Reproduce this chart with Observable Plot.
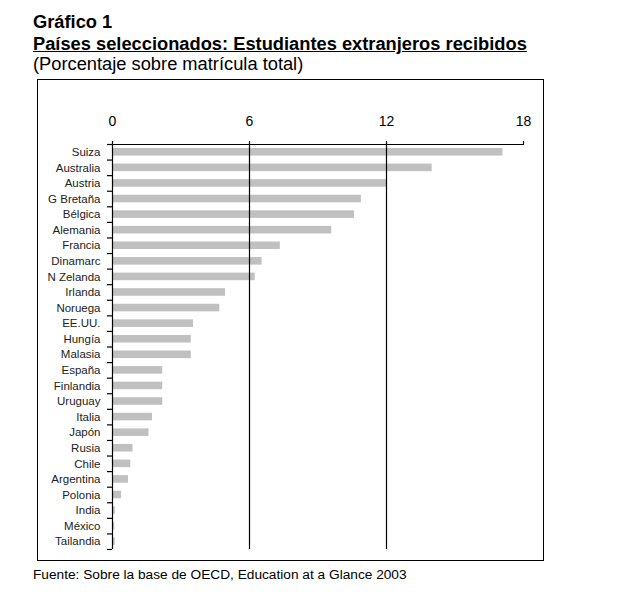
<!DOCTYPE html>
<html>
<head>
<meta charset="utf-8">
<script src="https://cdn.jsdelivr.net/npm/d3@7"></script>
<script src="https://cdn.jsdelivr.net/npm/@observablehq/plot@0.6"></script>
<style>
  body { margin: 0; background: #fff; font-family: "Liberation Sans", Arial, sans-serif; color: #000; }
  .t { position: absolute; left: 33px; white-space: nowrap; font-size: 18.3px; line-height: 21px; }
  #box { position: absolute; left: 37px; top: 79px; width: 507px; height: 482px; border: 1.5px solid #000; box-sizing: border-box; }
  #box svg { display: block; }
</style>
</head>
<body>
<div class="t" style="top:11px;font-weight:bold;">Gráfico 1</div>
<div class="t" style="top:33px;font-weight:bold;text-decoration:underline;">Países seleccionados: Estudiantes extranjeros recibidos</div>
<div class="t" style="top:53px;">(Porcentaje sobre matrícula total)</div>
<div id="box"></div>
<div class="t" style="top:567px;font-size:13.7px;line-height:16px;">Fuente: Sobre la base de OECD, Education at a Glance 2003</div>
<script>
const countries = ["Suiza","Australia","Austria","G Bretaña","Bélgica","Alemania","Francia","Dinamarc","N Zelanda","Irlanda","Noruega","EE.UU.","Hungía","Malasia","España","Finlandia","Uruguay","Italia","Japón","Rusia","Chile","Argentina","Polonia","India","México","Tailandia"];
const values = [17.1, 14.0, 12.0, 10.9, 10.6, 9.6, 7.35, 6.55, 6.25, 4.95, 4.7, 3.55, 3.45, 3.45, 2.2, 2.2, 2.2, 1.75, 1.6, 0.9, 0.8, 0.7, 0.4, 0.12, 0.1, 0.12];
const xTicks = [0, 6, 12, 18];

const data = countries.map((c, i) => ({country: c, value: values[i], i}));
const boundaries = d3.range(countries.length + 1);
const xMin = xTicks[0], xMax = xTicks[xTicks.length - 1];

const chart = Plot.plot({
  width: 504,
  height: 479,
  marginLeft: 74,
  marginRight: 19,
  marginTop: 64,
  marginBottom: 10,
  style: {fontFamily: "'Liberation Sans', Arial, sans-serif", background: "transparent", color: "#000"},
  x: {domain: [xMin, xMax], axis: null},
  y: {domain: [0, countries.length], reverse: true, axis: null},
  marks: [
    Plot.rect(data, {x1: xMin, x2: "value", y1: "i", y2: d => d.i + 1, insetTop: 4, insetBottom: 4, fill: "#c0c0c0"}),
    Plot.ruleX(xTicks.slice(0, -1), {y1: 0, y2: countries.length, stroke: "#000", strokeWidth: 1.2}),
    Plot.ruleY([0], {x1: xMin, x2: xMax, stroke: "#000", strokeWidth: 1.2}),
    Plot.axisY({ticks: boundaries, tickSize: 5, tickFormat: () => "", strokeWidth: 1.2, label: null}),
    Plot.text(data, {x: xMin, y: d => d.i + 0.5, text: "country", textAnchor: "end", dx: -12, fontSize: 11.5, fill: "#222", style: "letter-spacing:-0.5px"}),
    Plot.axisX({anchor: "top", ticks: xTicks, tickSize: 4, tickPadding: 15, fontSize: 14, strokeWidth: 1.2, label: null})
  ]
});
document.getElementById("box").appendChild(chart);
</script>
</body>
</html>
